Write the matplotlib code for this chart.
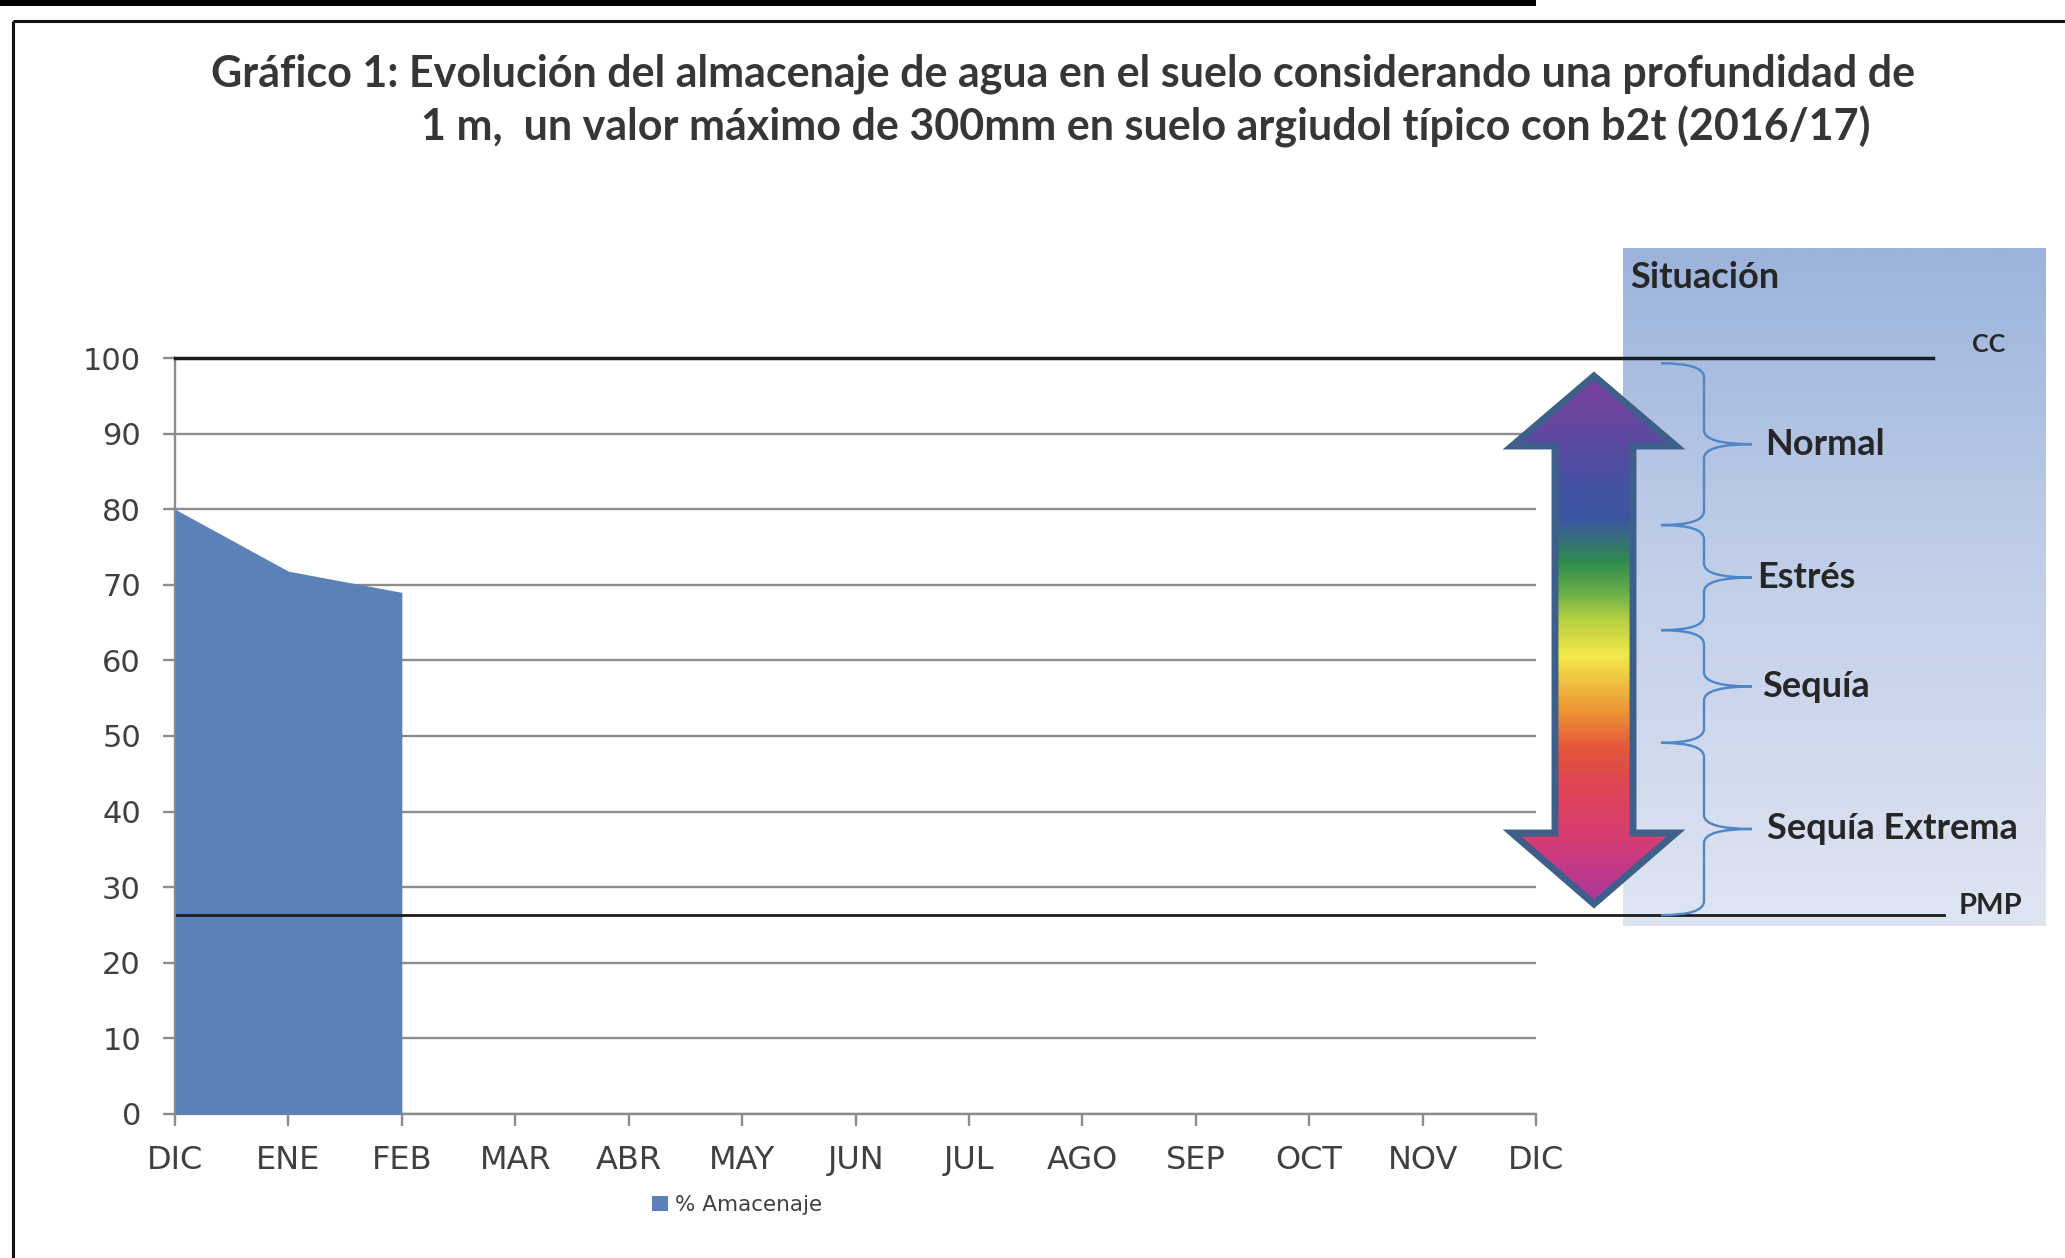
import numpy as np
import matplotlib
matplotlib.use("Agg")
import matplotlib.pyplot as plt
from matplotlib.colors import LinearSegmentedColormap
from matplotlib.patches import Polygon, PathPatch, Rectangle
from matplotlib.path import Path

# --- data -------------------------------------------------------------
MONTHS = ["DIC", "ENE", "FEB", "MAR", "ABR", "MAY", "JUN",
          "JUL", "AGO", "SEP", "OCT", "NOV", "DIC"]
STORAGE = [80.0, 71.8, 69.0]          # % almacenaje, DIC..FEB
Y_TICKS = list(range(0, 101, 10))
CC_LEVEL = 100.0                      # capacidad de campo
PMP_LEVEL = 26.3                      # punto de marchitez permanente

CLASSES = ["Normal", "Estrés", "Sequía", "Sequía Extrema"]
CLASS_EDGES = [99.3, 77.9, 64.0, 49.1, 26.3]

TITLE_1 = "Gráfico 1: Evolución del almacenaje de agua en el suelo considerando una profundidad de"
TITLE_2 = "1 m,  un valor máximo de 300mm en suelo argiudol típico con b2t (2016/17)"

# --- layout -----------------------------------------------------------
W, H = 2065, 1258
TXT = "#404040"
GRID = "#8c8c8c"
BOLD = dict(family="Lato", weight="bold")

fig = plt.figure(figsize=(W / 100, H / 100), dpi=100)
fig.patch.set_facecolor("white")

# background layer: frame, top rule, "Situación" panel
bg = fig.add_axes([0, 0, 1, 1], zorder=0)
bg.add_patch(Rectangle((0, 0), 1536, 6, color="black", lw=0))
bg.plot([13, 13], [21, H], color="#111111", lw=2.2, solid_capstyle="butt")
bg.plot([13, W], [21, 21], color="#111111", lw=2.2, solid_capstyle="butt")
panel_cmap = LinearSegmentedColormap.from_list("panel", ["#9cb3dc", "#c3d0ea", "#dfe5f2"])
bg.imshow(np.linspace(0, 1, 256).reshape(-1, 1), cmap=panel_cmap,
          extent=(1623, 2046, 926, 248), aspect="auto", zorder=1)
bg.set_xlim(0, W)
bg.set_ylim(H, 0)
bg.axis("off")

# main chart
ax = fig.add_axes([0.08475, 0.11447, 0.65908, 0.60095], zorder=1)
ax.patch.set_alpha(0)
x = np.arange(len(STORAGE))
ax.fill_between(x, STORAGE, color="#5a82b8", lw=0, zorder=3, label="% Amacenaje")
ax.plot([0, 15.5], [CC_LEVEL, CC_LEVEL], color="#1c1c1c", lw=2.5,
        clip_on=False, zorder=4)
ax.plot([0.02, 15.6], [PMP_LEVEL, PMP_LEVEL], color="#1c1c1c", lw=2.0,
        clip_on=False, zorder=4)

ax.set_xlim(0, len(MONTHS) - 1)
ax.set_ylim(0, 100)
ax.set_xticks(range(len(MONTHS)))
ax.set_xticklabels(MONTHS)
ax.set_yticks(Y_TICKS)
ax.grid(axis="y", color=GRID, lw=1.7)
ax.set_axisbelow(True)
for s in ("top", "right"):
    ax.spines[s].set_visible(False)
for s in ("left", "bottom"):
    ax.spines[s].set_color(GRID)
    ax.spines[s].set_linewidth(1.7)
ax.tick_params(axis="both", colors=GRID, length=8.5, width=1.7,
               labelcolor=TXT, labelsize=22)
ax.tick_params(axis="y", pad=16)
ax.tick_params(axis="x", pad=14, labelsize=23)

leg = ax.legend(loc="center left", bbox_to_anchor=(652 / W, 1 - 1205 / H),
                bbox_transform=fig.transFigure, frameon=False, fontsize=15.5,
                handlelength=0.75, handleheight=0.75, handletextpad=0.3,
                borderpad=0, borderaxespad=0)
for t in leg.get_texts():
    t.set_color(TXT)

# title (second line is indented, as in the original)
fig.text(211 / W, 1 - 87 / H, TITLE_1, fontsize=31, color="#363636", va="baseline", **BOLD)
fig.text(421 / W, 1 - 141 / H, TITLE_2, fontsize=31, color="#363636", va="baseline", **BOLD)

# foreground layer: arrow, braces, panel labels
fg = fig.add_axes([0, 0, 1, 1], zorder=2)
fg.patch.set_alpha(0)

cx = 1594
arrow_pts = [(cx, 376), (cx + 82, 446), (cx + 39, 446), (cx + 39, 833),
             (cx + 82, 833), (cx, 904), (cx - 82, 833), (cx - 39, 833),
             (cx - 39, 446), (cx - 82, 446)]
stops = [(0.00, "#7e3f9c"), (0.11, "#5e48a0"), (0.20, "#4751a3"), (0.27, "#3a56a0"),
         (0.31, "#36707a"), (0.35, "#2e8a4f"), (0.41, "#6aae4a"), (0.46, "#b5cf40"),
         (0.53, "#f3e94a"), (0.58, "#f0c040"), (0.63, "#ee9a35"), (0.70, "#e65a3a"),
         (0.75, "#e04a48"), (0.81, "#dd4060"), (0.87, "#d83d70"), (0.94, "#c0398a"),
         (1.00, "#a83a9c")]
arrow_cmap = LinearSegmentedColormap.from_list("arrow", stops)
outline = Polygon(arrow_pts, closed=True, facecolor="none", edgecolor="#3e5f8a",
                  lw=5, joinstyle="miter", zorder=3)
im = fg.imshow(np.linspace(0, 1, 512).reshape(-1, 1), cmap=arrow_cmap,
               extent=(cx - 82, cx + 82, 904, 376), aspect="auto", zorder=2)
fg.add_patch(outline)
clip = Polygon(arrow_pts, closed=True, transform=fg.transData)
im.set_clip_path(clip)


def to_px(v):
    return H - ax.transData.transform((0, v))[1]


def brace(y0, y1, xt=1661, xs=1704, xn=1752, r=14):
    ym = (y0 + y1) / 2
    verts = [(xt, y0), (xs, y0), (xs, y0 + r), (xs, ym - r), (xs, ym), (xn, ym),
             (xs, ym), (xs, ym + r), (xs, y1 - r), (xs, y1), (xt, y1)]
    codes = [Path.MOVETO, Path.CURVE3, Path.CURVE3, Path.LINETO, Path.CURVE3,
             Path.CURVE3, Path.CURVE3, Path.CURVE3, Path.LINETO, Path.CURVE3,
             Path.CURVE3]
    fg.add_patch(PathPatch(Path(verts, codes), facecolor="none",
                           edgecolor="#4f86c6", lw=1.7, zorder=3))
    return ym


label_x = [1765, 1757, 1762, 1767]
for i, name in enumerate(CLASSES):
    ym = brace(to_px(CLASS_EDGES[i]), to_px(CLASS_EDGES[i + 1]))
    fg.text(label_x[i], ym, name, fontsize=26, color="#262626",
            va="center", ha="left", **BOLD)

fg.text(1630, 277, "Situación", fontsize=26, color="#262626", va="center", **BOLD)
fg.text(1972, 345, "CC", fontsize=18, color="#262626", va="center", **BOLD)
fg.text(1959, 906, "PMP", fontsize=21, color="#262626", va="center", **BOLD)

fg.set_xlim(0, W)
fg.set_ylim(H, 0)
fg.axis("off")

fig.savefig("out.png", dpi=100, facecolor="white")
